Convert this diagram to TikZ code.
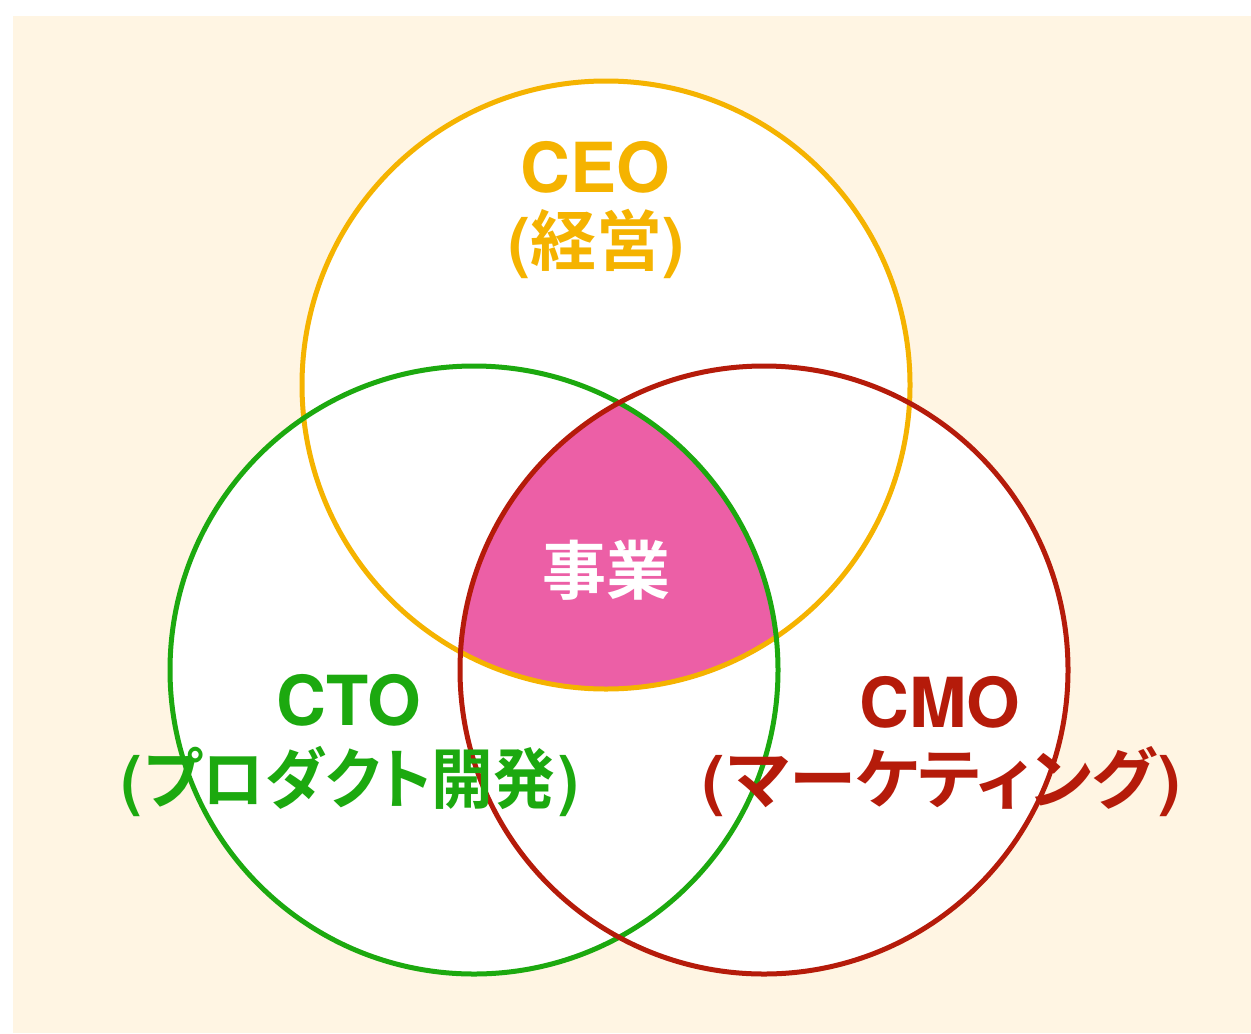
\documentclass[tikz,border=0pt]{standalone}
\usepackage{fontspec}
\setmainfont{TeX Gyre Heros}
\newfontfamily\jp{Noto Sans CJK JP}[BoldFont={* Bold}, RawFeature=+palt]
\definecolor{cream}{HTML}{FFF5E3}
\definecolor{ceocol}{HTML}{F5B300}
\definecolor{ctocol}{HTML}{1CA90F}
\definecolor{cmocol}{HTML}{B51B0A}
\definecolor{corecol}{HTML}{EC5FA6}
\tikzset{
  ring/.style={line width=2.5pt},
  latin/.style={font=\fontsize{34.5pt}{34.5pt}\selectfont\bfseries, anchor=base, inner sep=0pt},
  jline/.style={font=\fontsize{33pt}{33pt}\selectfont\bfseries, anchor=base, inner sep=0pt},
}
\newcommand{\jtxt}[1]{(\kern1.5pt{\jp\bfseries #1}\kern1.5pt)}
\begin{document}
\begin{tikzpicture}[x=0.5pt,y=-0.5pt]
\useasboundingbox (0,0) rectangle (1251,1033);
\fill[white] (0,0) rectangle (1251,1033);
\fill[cream] (13,16) rectangle (1251,1033);
\coordinate (ceoC) at (606,385);
\coordinate (ctoC) at (474,670);
\coordinate (cmoC) at (764,670);
\foreach \c in {ceoC,ctoC,cmoC} \fill[white] (\c) circle[radius=152pt];
\begin{scope}
  \clip (ctoC) circle[radius=152pt];
  \clip (cmoC) circle[radius=152pt];
  \fill[corecol] (ceoC) circle[radius=152pt];
\end{scope}
\draw[ring, ceocol] (ceoC) circle[radius=152pt];
\draw[ring, ctocol] (ctoC) circle[radius=152pt];
\draw[ring, cmocol] (cmoC) circle[radius=152pt];
\node[latin, text=ceocol] (ceo1) at (595,192) {CEO};
\node[jline, text=ceocol] (ceo2) at (596,265) {({\jp\bfseries 経営})};
\node[jline, text=white, font=\fontsize{32pt}{32pt}\selectfont\jp\bfseries] (core) at (606,594) {事業};
\node[latin, text=ctocol] (cto1) at (349,725) {CTO};
\node[jline, text=ctocol] (cto2) at (350,803) {\scalebox{0.935}[1]{\jtxt{プロダクト開発}}};
\node[latin, text=cmocol] (cmo1) at (940,727) {CMO};
\node[jline, text=cmocol] (cmo2) at (942,803) {\scalebox{1.02}[1]{\jtxt{マーケティング}}};
\end{tikzpicture}
\end{document}
